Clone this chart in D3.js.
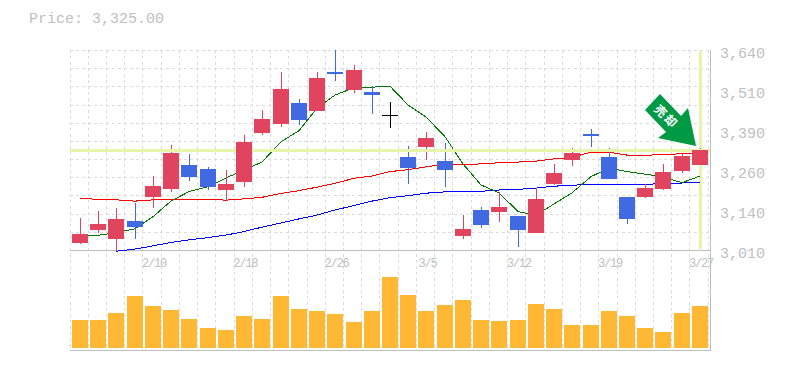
<!DOCTYPE html>
<html>
<head>
<meta charset="utf-8">
<script src="https://cdn.jsdelivr.net/npm/d3@7"></script>
<style>
    body { margin: 0; background: #fff; }
    text { font-family: "Liberation Mono", monospace; fill: #c0c0c0; }
</style>
</head>
<body>
<div id="chart"></div>
<script>
// candles, one entry per trading day
const opens  = [3032,3073,3045,3101,3177,3202,3278,3265,3199,3224,3379,3407,3473,3448,3571,3514,3508,3435,3303,3334,3290,3054,3136,3130,3117,3064,3218,3294,3375,3303,3177,3177,3202,3259,3278];
const highs  = [3111,3133,3142,3158,3243,3341,3312,3271,3262,3372,3451,3571,3486,3571,3640,3593,3527,3476,3338,3382,3347,3120,3145,3193,3117,3205,3281,3331,3391,3331,3177,3218,3281,3312,3331];
const lows   = [3029,3064,3007,3045,3142,3193,3227,3199,3164,3208,3372,3397,3404,3448,3542,3505,3438,3394,3218,3294,3208,3045,3079,3098,3019,3064,3215,3275,3334,3234,3092,3174,3199,3253,3278];
const closes = [3060,3092,3108,3082,3212,3316,3240,3208,3218,3350,3423,3517,3420,3552,3564,3577,3498,3435,3268,3363,3262,3076,3089,3145,3073,3171,3253,3316,3369,3234,3108,3205,3256,3306,3325];
const volumes = [28,28,35,52,42,38,29,20,18,32,29,52,39,37,34,26,37,71,53,37,43,48,28,27,28,44,39,23,23,37,32,20,16,35,42];

// moving averages
const maShort = [3053,3056,3065,3077,3115,3164,3194,3209,3237,3262,3287,3351,3386,3457,3498,3521,3523,3526,3467,3429,3367,3281,3215,3190,3131,3120,3155,3190,3241,3268,3257,3249,3240,3222,3243];
const maMid   = [3172,3170,3168,3164,3168,3170,3170,3170,3167,3171,3176,3188,3197,3208,3220,3236,3243,3257,3263,3272,3280,3280,3281,3285,3287,3290,3297,3302,3318,3318,3309,3308,3311,3313,3315];
const maLong  = [null,null,3006,3013,3023,3034,3042,3049,3057,3068,3082,3095,3108,3120,3136,3150,3164,3175,3181,3189,3193,3195,3195,3199,3201,3205,3211,3214,3217,3217,3217,3217,3219,3221,3223];

const yTickValues = [3640,3514,3388,3262,3136,3010];
const xTickIndex  = [4,9,14,19,24,29,34];
const xTickLabels = ["2/10","2/18","2/26","3/5","3/12","3/19","3/27"];
const lastPrice = 3325;
const signalText = "売却";

const width = 785, height = 370;
const plotLeft = 71, plotRight = 709.2, plotTop = 50, plotBottom = 250, volBottom = 348;
const barWidth = 16;

const svg = d3.select("#chart")
    .append("svg")
    .attr("width", width)
    .attr("height", height)
    .style("display", "block");

const idx = d3.range(closes.length);

let x = d3.scaleBand().domain(idx).range([plotLeft, plotRight]);
let y = d3.scaleLinear().domain([3010, 3640]).range([plotBottom, plotTop]);
let yVol = d3.scaleLinear().domain([0, d3.max(volumes)]).range([volBottom, volBottom - d3.max(volumes)]);

// bar left edge, the picture snaps everything to whole pixels
const barX = i => Math.round(x(i) + 1);
const midX = i => barX(i) + barWidth / 2;

// grid
const grid = svg.append("g")
    .attr("stroke", "#dcdcdc")
    .attr("stroke-dasharray", "3,3")
    .attr("shape-rendering", "crispEdges");

grid.selectAll("line.v")
    .data(d3.range(closes.length + 1))
    .enter().append("line")
    .attr("class", "v")
    .attr("x1", i => Math.floor(plotLeft + i * x.step() - 1) + 0.5)
    .attr("x2", i => Math.floor(plotLeft + i * x.step() - 1) + 0.5)
    .attr("y1", plotTop)
    .attr("y2", 350);

grid.selectAll("line.h")
    .data(d3.range(12))
    .enter().append("line")
    .attr("class", "h")
    .attr("x1", 70)
    .attr("x2", 710)
    .attr("y1", i => Math.round(plotTop + i * (plotBottom - plotTop) / 11) + 0.5)
    .attr("y2", i => Math.round(plotTop + i * (plotBottom - plotTop) / 11) + 0.5);

// frame
const frame = svg.append("g")
    .attr("stroke", "#bdbdbd")
    .attr("shape-rendering", "crispEdges");
frame.append("line").attr("x1", 70).attr("x2", 710).attr("y1", 250.5).attr("y2", 250.5);
frame.append("line").attr("x1", 70).attr("x2", 711).attr("y1", 350.5).attr("y2", 350.5);
frame.append("line").attr("x1", 710.5).attr("x2", 710.5).attr("y1", plotTop).attr("y2", 351);

// vertical part of the current price cross
svg.append("rect")
    .attr("fill", "#e6f5a9")
    .attr("shape-rendering", "crispEdges")
    .attr("x", midX(closes.length - 1) - 1).attr("width", 3)
    .attr("y", plotTop + 1).attr("height", 198);

// moving averages
function addLine(values, color) {
    svg.append("path")
        .datum(values)
        .attr("fill", "none")
        .attr("stroke", color)
        .attr("stroke-width", 1)
        .attr("shape-rendering", "crispEdges")
        .attr("d", d3.line()
            .defined(d => d !== null)
            .x((d, i) => midX(i))
            .y(d => y(d)));
}
addLine(maLong, "#0000ff");
addLine(maMid, "#ff0000");
addLine(maShort, "#007700");

// candles
const candleColor = i => closes[i] > opens[i] ? "#e0445f" : closes[i] < opens[i] ? "#4169e1" : "#000";

const candles = svg.append("g").attr("shape-rendering", "crispEdges");

candles.selectAll("rect.wick")
    .data(idx)
    .enter().append("rect")
    .attr("class", "wick")
    .attr("x", midX)
    .attr("width", 1)
    .attr("y", i => Math.round(y(highs[i])))
    .attr("height", i => Math.round(y(lows[i])) - Math.round(y(highs[i])))
    .attr("fill", candleColor);

// price line sits over the wicks but under the bodies
candles.append("rect")
    .attr("fill", "#e6f5a9")
    .attr("x", 70).attr("width", 640)
    .attr("y", y(lastPrice) - 1).attr("height", 3);

candles.selectAll("rect.body")
    .data(idx)
    .enter().append("rect")
    .attr("class", "body")
    .attr("x", barX)
    .attr("width", barWidth)
    .attr("y", i => Math.round(y(Math.max(opens[i], closes[i]))))
    .attr("height", i => Math.max(1, Math.round(y(Math.min(opens[i], closes[i]))) - Math.round(y(Math.max(opens[i], closes[i])))))
    .attr("fill", candleColor);

// volume
svg.append("g")
    .attr("shape-rendering", "crispEdges")
    .selectAll("rect")
    .data(volumes)
    .enter().append("rect")
    .attr("x", (d, i) => barX(i))
    .attr("width", barWidth)
    .attr("y", d => yVol(d))
    .attr("height", d => volBottom - yVol(d))
    .attr("fill", "#ffb833");

// axes
const yAxis = svg.append("g")
    .attr("transform", "translate(710,0)")
    .call(d3.axisRight(y)
        .tickValues(yTickValues)
        .tickSize(0)
        .tickPadding(10)
        .tickFormat(d => d3.format(",")(Math.round(d / 10) * 10)));
yAxis.select(".domain").remove();
yAxis.selectAll("text")
    .attr("dy", 7)
    .style("font-family", "'Liberation Mono', monospace")
    .style("font-size", "15px")
    .style("fill", "#c0c0c0");

const xAxis = svg.append("g")
    .attr("transform", "translate(0,250)")
    .call(d3.axisBottom(x)
        .tickValues(xTickIndex)
        .tickSize(0)
        .tickPadding(8)
        .tickFormat(i => xTickLabels[xTickIndex.indexOf(i)]));
xAxis.select(".domain").remove();
xAxis.selectAll("text")
    .attr("dx", 1)
    .style("font-family", "'Liberation Mono', monospace")
    .style("font-size", "12px")
    .style("letter-spacing", "-1.2px")
    .style("fill", "#c0c0c0");

svg.append("text")
    .attr("x", 29)
    .attr("y", 23)
    .style("font-size", "15px")
    .text("Price: " + d3.format(",.2f")(lastPrice));

// signal arrow, hung off the last candle
const last = closes.length - 1;
const arrow = svg.append("g")
    .attr("transform", "translate(" + midX(last) + "," + Math.round(y(highs[last])) + ")");
arrow.append("path")
    .attr("fill", "#009944")
    .attr("d", "M-40,-54L-55,-38L-34,-16L-42,-10L-4,-2L-12,-40L-19,-32Z");
arrow.append("text")
    .attr("transform", "translate(-34,-31) rotate(45)")
    .attr("text-anchor", "middle")
    .attr("dy", 4)
    .style("font-family", "'Noto Sans CJK JP'")
    .style("font-weight", "bold")
    .style("font-size", "12px")
    .style("letter-spacing", "2px")
    .style("fill", "#fff")
    .text(signalText);
</script>
</body>
</html>
